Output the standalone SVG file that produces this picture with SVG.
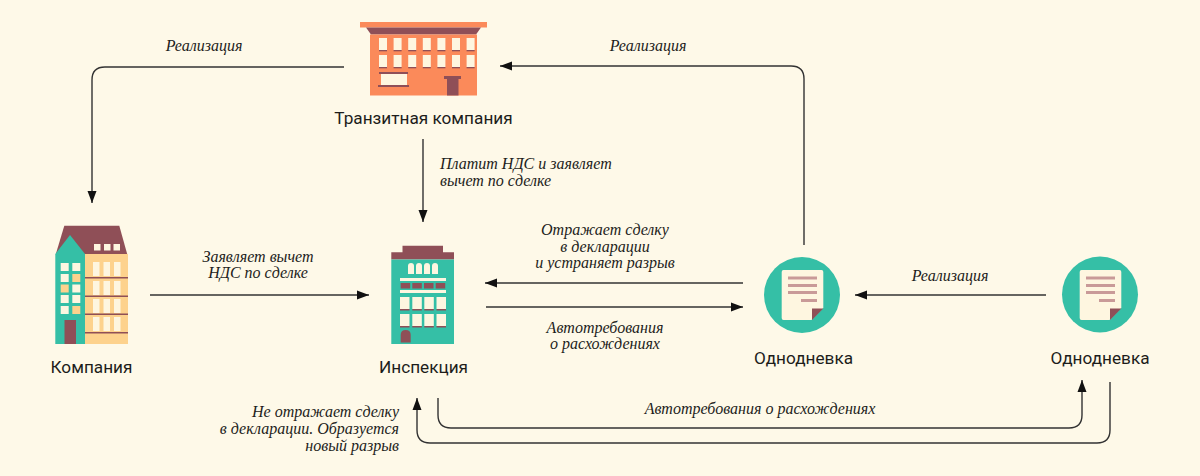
<svg xmlns="http://www.w3.org/2000/svg" width="1200" height="476" viewBox="0 0 1200 476">
<defs>
<marker id="arrow" markerUnits="userSpaceOnUse" markerWidth="13" markerHeight="12" refX="12" refY="5.5" orient="auto"><path d="M0 1L12 5.5L0 10Z" fill="#111"/></marker>
</defs>
<style>
.lbl{font-family:"Roboto","Liberation Sans",sans-serif;font-size:17.2px;fill:#1d1d1b;text-anchor:middle}
.cap{font-family:"Liberation Serif",serif;font-style:italic;font-size:16px;fill:#1d1d1b}
.m{text-anchor:middle}.e{text-anchor:end}
.c{fill:none;stroke:#333;stroke-width:1.4;marker-end:url(#arrow)}
.w{fill:#fef6e0}.d{fill:#8f4f57}.t{fill:#35bfa6}.y{fill:#fdd28d}.o{fill:#fb8a5a}
.line{fill:#c99a98}
</style>
<rect width="1200" height="476" fill="#fef9e8"/>
<g id="connectors">
<path class="c" d="M344 67H105Q92 67 92 80V203"/>
<path class="c" d="M804 245V79Q804 66 791 66H500"/>
<path class="c" d="M423 139V222"/>
<path class="c" d="M150 295H369"/>
<path class="c" d="M743 283H485"/>
<path class="c" d="M486 307H743"/>
<path class="c" d="M1046 295H855"/>
<path class="c" d="M438 398V415Q438 428 451 428H1069Q1082 428 1082 415V380"/>
<path class="c" d="M1110 382V430Q1110 443 1097 443H430Q417 443 417 430V398"/>
</g>
<g id="node-transit">
<rect x="360" y="22" width="127" height="5.5" fill="#fb8a5a"/>
<path class="d" d="M366 27.5H481L476 34.5H371Z"/>
<rect class="o" x="370" y="34.5" width="107" height="61"/>
<g class="w"><rect x="379" y="38" width="8" height="12"/><rect x="393.6" y="38" width="8" height="12"/><rect x="408.2" y="38" width="8" height="12"/><rect x="422.8" y="38" width="8" height="12"/><rect x="437.4" y="38" width="8" height="12"/><rect x="452" y="38" width="8" height="12"/><rect x="466.6" y="38" width="8" height="12"/>
<rect x="379" y="55" width="8" height="12"/><rect x="393.6" y="55" width="8" height="12"/><rect x="408.2" y="55" width="8" height="12"/><rect x="422.8" y="55" width="8" height="12"/><rect x="437.4" y="55" width="8" height="12"/><rect x="452" y="55" width="8" height="12"/><rect x="466.6" y="55" width="8" height="12"/>
<rect x="381" y="74" width="26" height="11"/></g>
<g class="d"><rect x="379" y="50" width="8" height="1.3"/><rect x="393.6" y="50" width="8" height="1.3"/><rect x="408.2" y="50" width="8" height="1.3"/><rect x="422.8" y="50" width="8" height="1.3"/><rect x="437.4" y="50" width="8" height="1.3"/><rect x="452" y="50" width="8" height="1.3"/><rect x="466.6" y="50" width="8" height="1.3"/>
<rect x="379" y="67" width="8" height="1.3"/><rect x="393.6" y="67" width="8" height="1.3"/><rect x="408.2" y="67" width="8" height="1.3"/><rect x="422.8" y="67" width="8" height="1.3"/><rect x="437.4" y="67" width="8" height="1.3"/><rect x="452" y="67" width="8" height="1.3"/><rect x="466.6" y="67" width="8" height="1.3"/>
<rect x="379" y="72" width="29" height="2"/><rect x="378" y="85" width="31" height="2"/><rect x="444" y="76" width="17" height="3"/><rect x="447" y="79" width="11.500" height="16.500"/></g>
<text class="lbl" x="423.500" y="124">Транзитная компания</text>
</g>
<g id="node-company">
<path class="d" d="M64.300 225.700H119.300L127.300 254.500H55.700Z"/>
<rect class="y" x="85" y="254" width="43" height="90"/>
<path class="t" d="M55.300 254L70 235L85 254V344H55.300Z"/>
<g class="w"><rect x="60.700" y="263" width="8" height="8"/><rect x="72.300" y="263" width="8" height="8"/><rect x="60.700" y="274" width="8" height="8"/><rect x="72.300" y="284.500" width="8" height="8"/><rect x="60.700" y="295" width="8" height="8"/><rect x="72.300" y="295" width="8" height="8"/><rect x="60.700" y="306" width="8" height="8"/>
<rect x="94" y="244" width="6.500" height="6.500"/><rect x="104" y="244" width="6.500" height="6.500"/><rect x="113.500" y="244" width="6.500" height="6.500"/>
<rect x="93" y="262" width="6.500" height="14"/><rect x="103.500" y="262" width="6.500" height="14"/><rect x="114" y="262" width="6.500" height="14"/>
<rect x="93" y="281" width="6.500" height="14"/><rect x="103.500" y="281" width="6.500" height="14"/><rect x="114" y="281" width="6.500" height="14"/>
<rect x="93" y="299" width="6.500" height="14"/><rect x="103.500" y="299" width="6.500" height="14"/><rect x="114" y="299" width="6.500" height="14"/>
<rect x="93" y="317" width="6.500" height="14"/><rect x="103.500" y="317" width="6.500" height="14"/><rect x="114" y="317" width="6.500" height="14"/></g>
<g class="y"><rect x="60.700" y="284.500" width="8" height="8"/><rect x="72.300" y="274" width="8" height="8"/><rect x="72.300" y="306" width="8" height="8"/></g>
<g class="d"><rect x="85" y="277" width="43" height="1.500"/><rect x="85" y="295.500" width="43" height="1.500"/><rect x="85" y="313.500" width="43" height="1.500"/><rect x="85" y="332" width="43" height="1.500"/><rect x="64.500" y="320" width="11.500" height="24"/></g>
<text class="lbl" x="91.500" y="373">Компания</text>
</g>
<g id="node-inspection">
<path class="d" d="M402.500 245.700H443V252.300H454V259.500H391.300V252.300H402.500Z"/>
<rect class="t" x="391.300" y="259.500" width="62.700" height="84.500"/>
<g class="w"><path d="M408 274V266Q408 263 411 263Q414 263 414 266V274Z"/><path d="M416 274V266Q416 263 419 263Q422 263 422 266V274Z"/><path d="M424 274V266Q424 263 427 263Q430 263 430 266V274Z"/><path d="M432 274V266Q432 263 435 263Q438 263 438 266V274Z"/>
<rect x="400" y="278" width="46" height="3"/><rect x="400" y="290" width="46" height="3"/>
<rect x="400" y="297" width="9.500" height="12"/><rect x="412.300" y="297" width="9.500" height="12"/><rect x="424.300" y="297" width="9.500" height="12"/><rect x="436.500" y="297" width="9.500" height="12"/>
<rect x="400" y="314" width="9.500" height="12"/><rect x="412.300" y="314" width="9.500" height="12"/><rect x="424.300" y="314" width="9.500" height="12"/><rect x="436.500" y="314" width="9.500" height="12"/></g>
<g class="d"><rect x="400.700" y="283" width="9.500" height="5.500"/><rect x="412.300" y="283" width="9.500" height="5.500"/><rect x="424" y="283" width="9.500" height="5.500"/><rect x="435.700" y="283" width="9.500" height="5.500"/>
<rect x="400" y="309" width="9.500" height="1.500"/><rect x="412.300" y="309" width="9.500" height="1.500"/><rect x="424.300" y="309" width="9.500" height="1.500"/><rect x="436.500" y="309" width="9.500" height="1.500"/>
<rect x="400" y="326" width="9.500" height="1.500"/><rect x="412.300" y="326" width="9.500" height="1.500"/><rect x="424.300" y="326" width="9.500" height="1.500"/><rect x="436.500" y="326" width="9.500" height="1.500"/>
<path d="M400.700 342.500V335Q400.700 330 405.700 330Q410.700 330 410.700 335V342.500Z"/></g>
<text class="lbl" x="423.500" y="373">Инспекция</text>
</g>
<g id="node-shell1">
<circle class="t" cx="802" cy="295" r="38"/>
<path class="w" d="M783.500 270H821.500Q823.300 270 823.300 272V308L811.500 320H783.500Q781.700 320 781.700 318V272Q781.700 270 783.500 270Z"/>
<path class="d" d="M812 308.500H823.300L812 320Z"/>
<g class="line"><rect x="788" y="276.500" width="29" height="3"/><rect x="788" y="284" width="29" height="3"/><rect x="788" y="291" width="29" height="3"/><rect x="801" y="299" width="16" height="3"/></g>
<text class="lbl" x="803.500" y="364">Однодневка</text>
</g>
<g id="node-shell2">
<circle class="t" cx="1100" cy="294.500" r="38"/>
<path class="w" d="M1081.500 270H1119.500Q1121.300 270 1121.300 272V308L1109.500 320H1081.500Q1079.700 320 1079.700 318V272Q1079.700 270 1081.500 270Z"/>
<path class="d" d="M1110 308.500H1121.300L1110 320Z"/>
<g class="line"><rect x="1086" y="276.500" width="29" height="3"/><rect x="1086" y="284" width="29" height="3"/><rect x="1086" y="291" width="29" height="3"/><rect x="1099" y="299" width="16" height="3"/></g>
<text class="lbl" x="1100" y="364">Однодневка</text>
</g>
<g id="labels">
<text class="cap m" x="204" y="51">Реализация</text>
<text class="cap m" x="648" y="51">Реализация</text>
<text class="cap" x="440" y="169">Платит НДС и заявляет</text>
<text class="cap" x="440" y="186">вычет по сделке</text>
<text class="cap m" x="258" y="261.500">Заявляет вычет</text>
<text class="cap m" x="258" y="278">НДС по сделке</text>
<text class="cap m" x="605" y="235">Отражает сделку</text>
<text class="cap m" x="605" y="251.500">в декларации</text>
<text class="cap m" x="605" y="268">и устраняет разрыв</text>
<text class="cap m" x="605" y="332.500">Автотребования</text>
<text class="cap m" x="605" y="349">о расхождениях</text>
<text class="cap m" x="950" y="281">Реализация</text>
<text class="cap m" x="760" y="414">Автотребования о расхождениях</text>
<text class="cap e" x="399" y="417">Не отражает сделку</text>
<text class="cap e" x="399" y="434">в декларации. Образуется</text>
<text class="cap e" x="399" y="451">новый разрыв</text>
</g>
</svg>
